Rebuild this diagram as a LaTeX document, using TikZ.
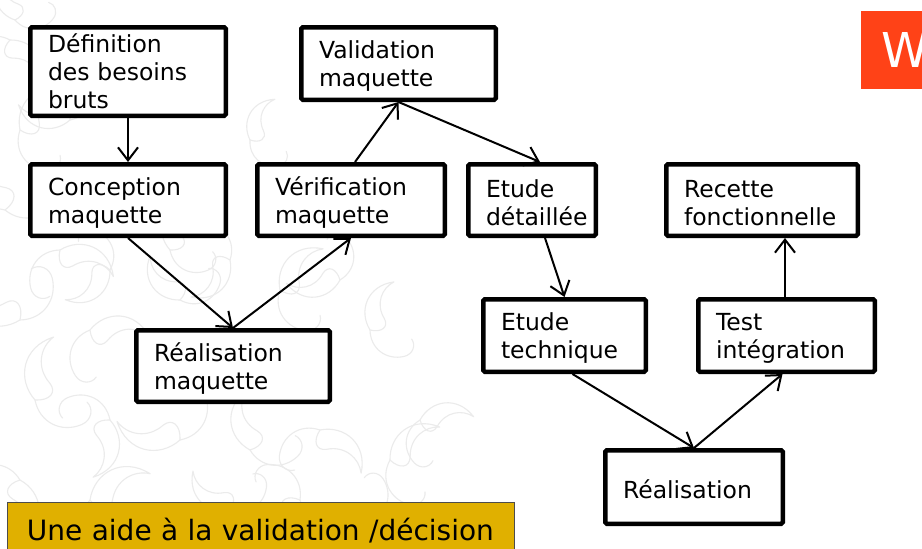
\documentclass[tikz,border=0pt]{standalone}
\usepackage{fontspec}
\setmainfont{DejaVu Sans}
\usetikzlibrary{arrows.meta}

% text inside the process boxes: no hyphenation, fixed leading
\newcommand\boxfont{\fontsize{23.5}{28}\selectfont\hyphenpenalty=10000\exhyphenpenalty=10000\relax}
% strut that sets the height of the first text line
\newcommand\firstline{\rule{0pt}{23.5pt}}

\definecolor{tabred}{RGB}{255,66,23}
\definecolor{notegold}{RGB}{224,176,0}

\begin{document}
\begin{tikzpicture}[x=1pt,y=-1pt,
  plainbox/.style={draw=black, fill=white, line width=4.5pt, rounded corners=1.5pt,
                  inner sep=0pt, align=left, font=\boxfont},
  procbox/.style={plainbox, execute at begin node=\firstline},
  flow/.style={line width=2pt, -{Straight Barb[length=13pt,width=20pt]}},
  swirl/.style={draw=black!8, line width=1.1pt, line cap=round, line join=round},
  leaf/.pic={
    % pointed leaf outline with a curled stem
    \draw[swirl] (0,0) .. controls (8,-24) and (36,-34) .. (58,-14)
                       .. controls (44,-20) and (26,-14) .. (20,4)
                       .. controls (16,14) and (6,12) .. (0,0);
    \draw[swirl] (0,0) .. controls (-16,14) and (-14,36) .. (2,48)
                       .. controls (10,54) and (20,50) .. (22,42);
  },
]
\clip (0,0) rectangle (922,549);
\fill[white] (0,0) rectangle (922,549);

% faint ornamental background on the left
\foreach \px/\py/\rot/\sc in {
  10/40/-70/0.9, 20/130/30/1.0, 70/120/150/0.9, 5/210/100/1.1,
  60/250/-40/1.0, 110/270/200/0.9, 170/250/60/0.9, 20/320/140/1.1,
  90/330/-20/1.0, 35/400/60/1.1, 110/420/-120/1.0, 180/300/110/0.9,
  230/260/-150/0.9, 280/290/30/1.0, 340/280/170/0.9, 300/350/-80/0.9,
  370/330/50/0.9, 180/440/150/1.1, 250/450/80/1.0, 320/430/-60/1.0,
  390/460/20/1.0, 20/480/-100/1.0, 90/500/10/1.1, 160/520/-30/1.0,
  230/510/120/0.9, 300/500/-140/1.0, 370/520/160/0.9, 420/420/-10/0.9,
  250/140/45/0.8, 15/20/90/0.8}
  \pic[rotate=\rot, scale=\sc] at (\px,\py) {leaf};

% prototype cycle
\node[plainbox, minimum width=195.5pt, minimum height=88.5pt, text width=160pt] (def) at (128,71.5) {Définition\\des besoins\\bruts};
\node[procbox, minimum width=195.5pt, minimum height=71.5pt, text width=160pt] (conc)  at (128,200)  {Conception\\maquette};
\node[procbox, minimum width=193.5pt, minimum height=71.5pt, text width=158pt] (realm) at (233,366)  {Réalisation\\maquette};
\node[procbox, minimum width=187.5pt, minimum height=71.5pt, text width=152pt] (verif) at (351,200)  {Vérification\\maquette};
\node[procbox, minimum width=194.5pt, minimum height=72.5pt, text width=159pt] (valid) at (398.5,63.5) {Validation\\maquette};

% development cycle
\node[procbox, minimum width=127.5pt, minimum height=71.5pt, text width=92pt]  (etd)   at (532,200)   {Etude\\détaillée};
\node[procbox, minimum width=191.5pt, minimum height=71.5pt, text width=156pt] (rec)   at (762,200)   {Recette\\fonctionnelle};
\node[procbox, minimum width=162.5pt, minimum height=72.5pt, text width=127pt] (etech) at (564.5,335.5) {Etude\\technique};
\node[procbox, minimum width=176.5pt, minimum height=72.5pt, text width=141pt] (test)  at (786.5,335.5) {Test\\intégration};
\node[procbox, minimum width=177.5pt, minimum height=73.5pt, text width=142pt] (real)  at (694,487)   {Réalisation};

% connectors
\draw[flow] (def.south) -- (conc.north);
\draw[flow] (conc.south) -- (realm.north);
\draw[flow] (realm.north) -- (verif.south);
\draw[flow] ([xshift=4pt]verif.north) -- (valid.south);
\draw[flow] (valid.south) -- ([xshift=8pt]etd.north);
\draw[flow] ([xshift=13pt]etd.south) -- (etech.north);
\draw[flow] ([xshift=8pt]etech.south) -- (real.north);
\draw[flow] (real.north) -- ([xshift=-4pt]test.south);
\draw[flow] ([xshift=-1.5pt]test.north) -- ([xshift=-1.5pt]test.north |- rec.south);

% corner tab and caption bar
\node[fill=tabred, minimum width=89pt, minimum height=78pt, inner sep=0pt, text=white,
      font=\fontsize{48}{48}\selectfont] (tab) at (905.5,50) {W};
\node[draw=black!70, line width=1pt, fill=notegold, minimum width=507pt, minimum height=58pt,
      text width=468pt, align=left, inner sep=0pt, font=\fontsize{28}{33}\selectfont]
      (note) at (261,531) {Une aide à la validation /décision};
\end{tikzpicture}
\end{document}
